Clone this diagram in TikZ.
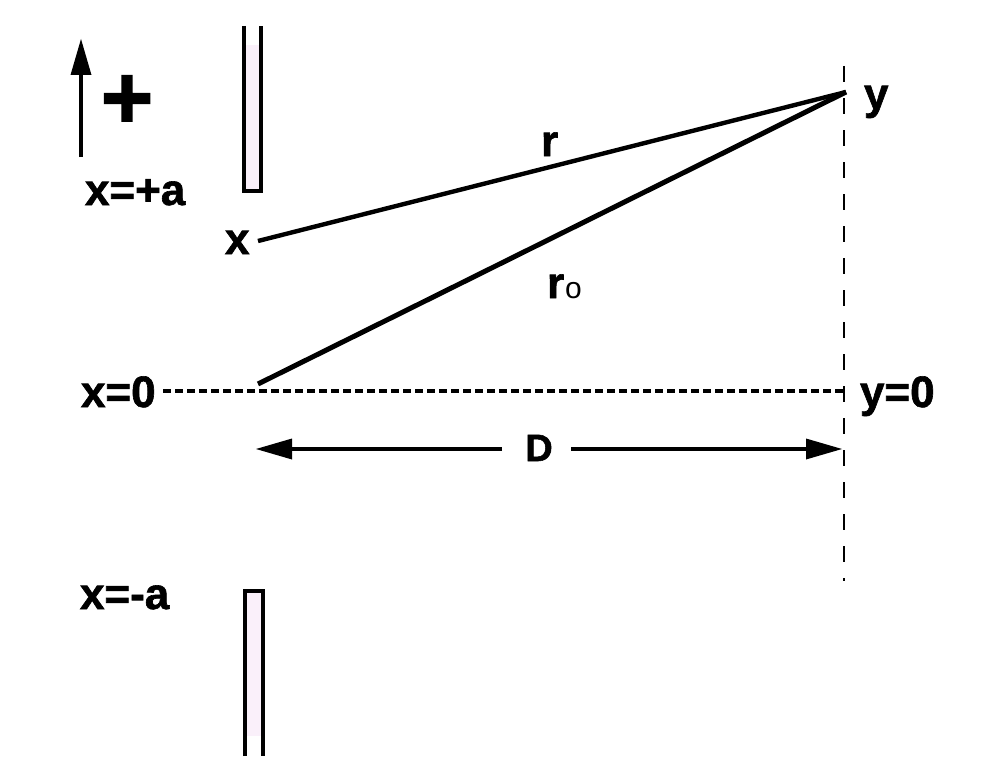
\documentclass[tikz,border=0pt]{standalone}
\usepackage{fontspec}
\setmainfont{Liberation Sans}[BoldFeatures={FakeBold=1.4}]
\usetikzlibrary{arrows.meta}
\definecolor{slitfill}{HTML}{FAF0FA}
\tikzset{
  lab/.style={anchor=base west,inner sep=0pt,outer sep=0pt,font=\bfseries\fontsize{44}{44}\selectfont,text=black},
  plusmark/.style={inner sep=0pt,outer sep=0pt,font=\bfseries\fontsize{90}{90}\selectfont,text=black},
  slitwall/.style={draw=black,line width=3.8pt,miter limit=10},
  slitglow/.style={fill=slitfill,draw=none},
  ray/.style={draw=black,line width=4.4pt},
  rayzero/.style={draw=black,line width=5pt},
  axisline/.style={draw=black,line width=3.6pt,dash pattern=on 8pt off 4pt},
  screen/.style={draw=black,line width=2.4pt,dash pattern=on 16pt off 16pt},
  bigarrow/.style={draw=black,line width=3.8pt,-{Triangle[length=36pt,width=21pt,line width=0pt]}}
}
\begin{document}
\begin{tikzpicture}[x=1pt,y=-1pt]
\useasboundingbox (0,0) rectangle (993,768);
% upper slit
\fill[slitglow] (246,45) rectangle (259,190);
\coordinate (ua) at (244,26);
\coordinate (ub) at (244,191);
\coordinate (uc) at (261,191);
\coordinate (ud) at (261,26);
\draw[slitwall] (ua) -- (ub) -- (uc) -- (ud);
% lower slit
\fill[slitglow] (247,593) rectangle (261,736);
\coordinate (la) at (245,756);
\coordinate (lb) at (245,591);
\coordinate (lc) at (263,591);
\coordinate (ld) at (263,756);
\draw[slitwall] (la) -- (lb) -- (lc) -- (ld);
% up arrow and plus
\coordinate (ubase) at (81,157);
\coordinate (utip) at (81,39);
\draw[bigarrow] (ubase) -- (utip);
\node[plusmark] (plus) at (127,102) {+};
% labels
\node[lab] (xpa) at (85,205) {x=+a};
\node[lab] (xl) at (225,254) {x};
\node[lab] (rl) at (541,156) {r};
\node[lab] (r0) at (547,298) {r\kern1pt{\fontsize{30}{30}\mdseries\selectfont o}};
\node[lab] (yl) at (864,109) {y};
\node[lab] (x0) at (81,407) {x=0};
\node[lab] (y0) at (860,407) {y=0};
\node[lab] (xma) at (80,609) {x=-a};
% screen
\coordinate (st) at (844,66);
\coordinate (sb) at (844,581);
\draw[screen] (st) -- (sb);
% rays
\coordinate (px) at (258,241);
\coordinate (po) at (258,384);
\coordinate (py) at (846,92);
\draw[ray] (px) -- (py);
\draw[rayzero] (po) -- (py);
% axis
\coordinate (al) at (163,391);
\coordinate (ar) at (843,391);
\draw[axisline] (al) -- (ar);
% D dimension
\node[lab,anchor=base,minimum width=69pt,font=\bfseries\fontsize{38}{38}\selectfont] (dl) at (539,461) {D};
\coordinate (dll) at (256,449);
\coordinate (drr) at (842,449);
\coordinate (dls) at (502,449);
\coordinate (drs) at (571,449);
\draw[bigarrow] (dls) -- (dll);
\draw[bigarrow] (drs) -- (drr);
\end{tikzpicture}
\end{document}
